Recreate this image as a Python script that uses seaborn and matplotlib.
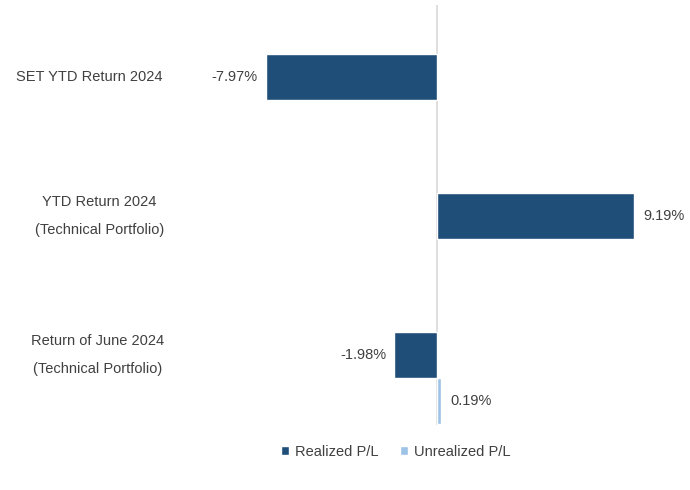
import matplotlib
matplotlib.use("Agg")
import matplotlib.pyplot as plt
import seaborn as sns
import pandas as pd
import numpy as np

categories = ["SET YTD Return 2024",
              "YTD Return 2024\n(Technical Portfolio)",
              "Return of June 2024\n(Technical Portfolio)"]
realized = [-7.97, 9.19, -1.98]
unrealized = [np.nan, np.nan, 0.19]
series = ["Realized P/L", "Unrealized P/L"]
colors = ["#1F4E79", "#9DC3E6"]

rows = []
for c, r, u in zip(categories, realized, unrealized):
    if not np.isnan(r):
        rows.append({"cat": c, "series": series[0], "val": r})
    if not np.isnan(u):
        rows.append({"cat": c, "series": series[1], "val": u})
df = pd.DataFrame(rows)

sns.set_style("white")
plt.rcParams["font.family"] = ["Liberation Sans", "DejaVu Sans"]

FS = 10.5
TXT = "#404040"

fig = plt.figure(figsize=(6.9, 4.9), dpi=100)
ax = fig.add_axes([222/690, 1 - 425/490, (651.6-222)/690, 420/490])

sns.barplot(data=df, y="cat", x="val", hue="series", order=categories,
            hue_order=series, palette=colors, orient="h", width=0.66,
            ax=ax, legend=True, saturation=1)

ax.set_xlim(-10, 10)
ax.set_ylim(2 + 47/139, -95/139)
ax.axvline(0, color="#D9D9D9", lw=1.2, zorder=0)
for s in ax.spines.values():
    s.set_visible(False)
ax.set_xticks([])
ax.set_yticks([])
ax.set_xlabel("")
ax.set_ylabel("")

# category labels aligned with realized bars (label centres in pixels)
label_px = [90, 100, 98]
off = 0.66 / 4
for i, c in enumerate(categories):
    xd = (label_px[i] - 437) / 21.46
    ax.text(xd, i - off, c, ha="center", va="center", fontsize=FS,
            color=TXT, linespacing=2.2)

# value labels
for cont in ax.containers:
    for bar in cont:
        w = bar.get_width()
        if np.isnan(w):
            continue
        y = bar.get_y() + bar.get_height() / 2
        if w < 0:
            ax.text(w - 0.38, y, f"{w:.2f}%", ha="right", va="center",
                    fontsize=FS, color=TXT)
        else:
            ax.text(w + 0.42, y, f"{w:.2f}%", ha="left", va="center",
                    fontsize=FS, color=TXT)

leg = ax.legend(loc="center", bbox_to_anchor=(396/690, 1 - 452/490),
                bbox_transform=fig.transFigure, ncol=2, frameon=False,
                fontsize=FS, handlelength=0.55, handleheight=0.55,
                handletextpad=0.4, columnspacing=1.5)
for t in leg.get_texts():
    t.set_color(TXT)

fig.savefig("out.png", dpi=100)
